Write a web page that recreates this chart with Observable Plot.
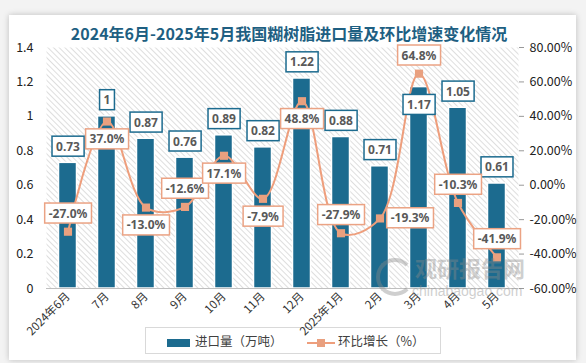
<!DOCTYPE html>
<html><head><meta charset="utf-8">
<script src="https://cdn.jsdelivr.net/npm/d3@7"></script>
<script src="https://cdn.jsdelivr.net/npm/@observablehq/plot@0.6"></script>
<style>
body{margin:0;background:#f3f3f3;width:586px;height:363px;overflow:hidden;font-family:"Noto Sans CJK SC","Noto Sans",sans-serif}
#wrap{position:relative;width:586px;height:363px}
#card{position:absolute;left:9px;top:15px;width:567px;height:345px;background:#fff;box-shadow:0 0 6px rgba(0,0,0,.22)}
#title{position:absolute;left:9px;width:560px;top:22px;line-height:22px;text-align:center;font-size:16px;font-weight:bold;color:#1e5f82;white-space:nowrap}
#chart{position:absolute;left:0;top:40px;z-index:2}
#legend{position:absolute;left:145px;top:327px;width:294px;height:25px;border:1px solid #d9d9d9;background:#fff;z-index:1;font-size:12.5px;color:#404040}
#legend .it{position:absolute;top:0;line-height:25px;white-space:nowrap}
#wm{position:absolute;left:0;top:0;z-index:3;opacity:.4;color:#8a8a8a;pointer-events:none}
#wm .cn{position:absolute;left:415px;top:250px;font-size:22px;line-height:34px;font-weight:bold;white-space:nowrap}
#wm .en{position:absolute;left:412px;top:282px;font-family:"Liberation Sans",sans-serif;font-size:14px;line-height:18px;white-space:nowrap}
#wm .logo{position:absolute;left:376px;top:258px;width:30px;height:30px;border-radius:50%;border:4px solid #8a8a8a;border-right-color:transparent}
</style></head>
<body><div id="wrap">
<div id="card"></div>
<div id="title">2024年6月-2025年5月我国糊树脂进口量及环比增速变化情况</div>
<div id="legend">
  <div class="it" style="left:21px"><span style="display:inline-block;width:23px;height:8px;background:#1c6b8f;vertical-align:middle;margin-right:5px"></span>进口量（万吨）</div>
  <div class="it" style="left:161px"><svg width="28" height="10" style="vertical-align:middle;margin-right:3px"><line x1="0" y1="5" x2="28" y2="5" stroke="#ee9e7c" stroke-width="2"/><rect x="10" y="1" width="8" height="8" fill="#e9a07f"/></svg>环比增长（%）</div>
</div>
<div id="chart"></div>
<div id="wm"><div class="logo"></div><div class="cn">观研报告网</div><div class="en">chinabaogao.com</div></div>
</div>
<script>
const months = ["2024年6月","7月","8月","9月","10月","11月","12月","2025年1月","2月","3月","4月","5月"];
const imports = [0.73, 1, 0.87, 0.76, 0.89, 0.82, 1.22, 0.88, 0.71, 1.17, 1.05, 0.61];
const growth = [-27.0, 37.0, -13.0, -12.6, 17.1, -7.9, 48.8, -27.9, -19.3, 64.8, -10.3, -41.9];
const leftTicks = [0, 0.2, 0.4, 0.6, 0.8, 1, 1.2, 1.4];
const rightTicks = [-60, -40, -20, 0, 20, 40, 60, 80];

// label placement (layout only)
const barLabelPlace = ["above","above","above","above","above","above","above","above","above","below","above","above"];
const rateLabelPlace = ["above","below","below","above","below","below","below","above","right","above","above","above"];

const leftMax = 1.4, rightMin = -60, rightMax = 80;
const toLeft = p => (p - rightMin) / (rightMax - rightMin) * leftMax;

const rows = months.map((m, i) => ({m, v: imports[i], g: growth[i], gy: toLeft(growth[i]), bp: barLabelPlace[i], rp: rateLabelPlace[i]}));

const BLUE = "#1c6b8f", ORANGE = "#ee9e7c";
const txt = {fontFamily: "'Noto Sans', sans-serif", fontWeight: "bold", fontSize: 12, fill: "#595959"};

const chart = Plot.plot({
  width: 586, height: 315,
  marginTop: 7, marginBottom: 67, marginLeft: 46, marginRight: 68,
  style: {background: "transparent", fontFamily: "'Noto Sans CJK SC', sans-serif", overflow: "visible"},
  x: {domain: months, padding: 0},
  y: {domain: [0, leftMax]},
  marks: [
    Plot.frame({fill: "url(#hatch)", stroke: null}),
    Plot.barY(rows, {x: "m", y: "v", fill: BLUE, stroke: "#fff", strokeWidth: 1.5, insetLeft: 10.5, insetRight: 10.5}),
    Plot.ruleY([0], {stroke: "#bfbfbf", strokeWidth: 1}),
    Plot.axisY({ticks: leftTicks, tickSize: 0, tickPadding: 13, tickFormat: d => String(+d.toFixed(1)), fontSize: 12.5, fill: "#222", label: null}),
    Plot.axisY({anchor: "right", ticks: rightTicks.map(toLeft), tickFormat: (d, i) => rightTicks[i].toFixed(2) + "%", tickSize: 5, tickPadding: 6, fontSize: 12.5, fill: "#222", stroke: "#999", line: true, label: null}),
    Plot.axisX({tickRotate: -45, tickSize: 0, tickPadding: 6, fontSize: 11.5, fill: "#333", label: null}),
    Plot.line(rows, {x: "m", y: "gy", stroke: ORANGE, strokeWidth: 2, curve: "catmull-rom"}),
    Plot.dot(rows, {x: "m", y: "gy", symbol: "square", r: 4.6, fill: "#e9a07f", stroke: null}),
    Plot.text(rows.filter(d => d.bp === "above"), {x: "m", y: "v", text: d => String(d.v), dy: -16, className: "barlab", ...txt}),
    Plot.text(rows.filter(d => d.bp === "below"), {x: "m", y: "v", text: d => String(d.v), dy: 18, className: "barlab", ...txt}),
    Plot.text(rows.filter(d => d.rp === "above"), {x: "m", y: "gy", text: d => d.g.toFixed(1) + "%", dy: -18, className: "ratelab", ...txt}),
    Plot.text(rows.filter(d => d.rp === "below"), {x: "m", y: "gy", text: d => d.g.toFixed(1) + "%", dy: 18, className: "ratelab", ...txt}),
    Plot.text(rows.filter(d => d.rp === "right"), {x: "m", y: "gy", text: d => d.g.toFixed(1) + "%", dx: 30, className: "ratelab", ...txt})
  ]
});
document.getElementById("chart").appendChild(chart);

const svg = d3.select(chart);
const defs = svg.insert("defs", ":first-child");
const pat = defs.append("pattern").attr("id", "hatch").attr("patternUnits", "userSpaceOnUse")
  .attr("width", 4).attr("height", 4).attr("patternTransform", "rotate(-45)");
pat.append("rect").attr("width", 4).attr("height", 4).attr("fill", "#fff");
pat.append("line").attr("x1", 0).attr("y1", 0).attr("x2", 0).attr("y2", 4).attr("stroke", "#d6d6d6").attr("stroke-width", 1.6);

function boxes(cls, color) {
  svg.selectAll("g." + cls + " text").each(function() {
    const b = this.getBBox();
    const padX = 4, h = 20;
    const cy = b.y + b.height / 2;
    d3.select(this.parentNode).insert("rect", () => this)
      .attr("x", b.x - padX).attr("y", cy - h / 2)
      .attr("width", b.width + 2 * padX).attr("height", h)
      .attr("fill", "#fff").attr("stroke", color).attr("stroke-width", 1.5)
      .attr("transform", this.getAttribute("transform"));
  });
}
boxes("barlab", BLUE);
boxes("ratelab", "#eba384");
</script>
</body></html>
